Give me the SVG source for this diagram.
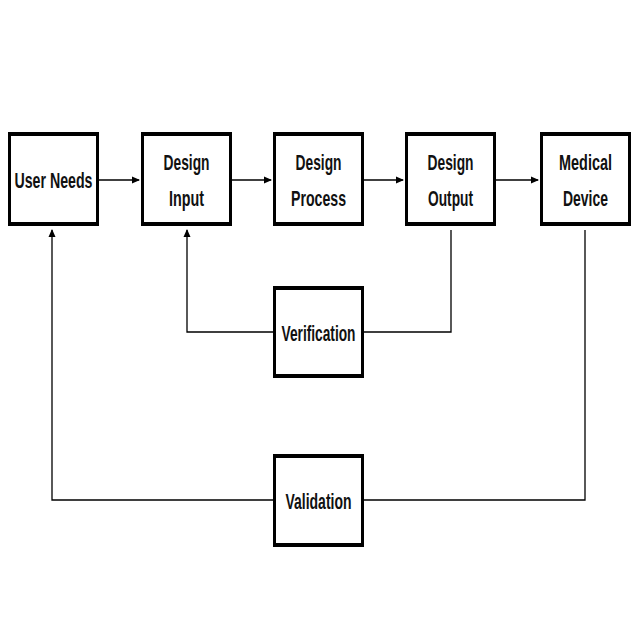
<svg xmlns="http://www.w3.org/2000/svg" width="640" height="640" viewBox="0 0 640 640">
<style>
.b{fill:#fff;stroke:#000;stroke-width:3}
.bt{stroke:#000;stroke-width:4}
.t{font-family:"Liberation Sans",Arial,sans-serif;font-size:22px;font-weight:bold;text-anchor:middle;fill:#111}
.c{fill:none;stroke:#000;stroke-width:1.3}
</style>
<defs><marker id="a" markerWidth="8" markerHeight="8" refX="7" refY="4" orient="auto" markerUnits="userSpaceOnUse"><path d="M0,0.5 L8,4 L0,7.5z" fill="#000"/></marker></defs>
<g id="connectors">
<path class="c" d="M99,180 H139" marker-end="url(#a)"/>
<path class="c" d="M232,180 H271" marker-end="url(#a)"/>
<path class="c" d="M364,180 H403" marker-end="url(#a)"/>
<path class="c" d="M496,180 H538" marker-end="url(#a)"/>
<path class="c" d="M273,332 H187 V230" marker-end="url(#a)"/>
<path class="c" d="M364,332 H451 V230"/>
<path class="c" d="M273,500 H52 V230" marker-end="url(#a)"/>
<path class="c" d="M364,500 H585 V230"/>
</g>
<g id="n1"><rect class="b" x="9.5" y="134" width="88" height="90"/><path class="bt" d="M8,134H99M8,224H99"/><text class="t" x="53.5" y="188" textLength="78" lengthAdjust="spacingAndGlyphs">User Needs</text></g>
<g id="n2"><rect class="b" x="142.5" y="134" width="88" height="90"/><path class="bt" d="M141,134H232M141,224H232"/><text class="t" x="186.5" y="170" textLength="46" lengthAdjust="spacingAndGlyphs">Design</text><text class="t" x="186.5" y="206" textLength="35" lengthAdjust="spacingAndGlyphs">Input</text></g>
<g id="n3"><rect class="b" x="274.5" y="134" width="88" height="90"/><path class="bt" d="M273,134H364M273,224H364"/><text class="t" x="318.5" y="170" textLength="46" lengthAdjust="spacingAndGlyphs">Design</text><text class="t" x="318.5" y="206" textLength="55" lengthAdjust="spacingAndGlyphs">Process</text></g>
<g id="n4"><rect class="b" x="406.5" y="134" width="88" height="90"/><path class="bt" d="M405,134H496M405,224H496"/><text class="t" x="450.5" y="170" textLength="46" lengthAdjust="spacingAndGlyphs">Design</text><text class="t" x="450.5" y="206" textLength="45" lengthAdjust="spacingAndGlyphs">Output</text></g>
<g id="n5"><rect class="b" x="541.5" y="134" width="88" height="90"/><path class="bt" d="M540,134H631M540,224H631"/><text class="t" x="585.5" y="170" textLength="53" lengthAdjust="spacingAndGlyphs">Medical</text><text class="t" x="585.5" y="206" textLength="45" lengthAdjust="spacingAndGlyphs">Device</text></g>
<g id="n6"><rect class="b" x="274.5" y="288" width="88" height="88"/><path class="bt" d="M273,288H364M273,376H364"/><text class="t" x="318.5" y="341" textLength="74" lengthAdjust="spacingAndGlyphs">Verification</text></g>
<g id="n7"><rect class="b" x="274.5" y="456" width="88" height="89"/><path class="bt" d="M273,456H364M273,545H364"/><text class="t" x="318.5" y="509" textLength="66" lengthAdjust="spacingAndGlyphs">Validation</text></g>
</svg>
